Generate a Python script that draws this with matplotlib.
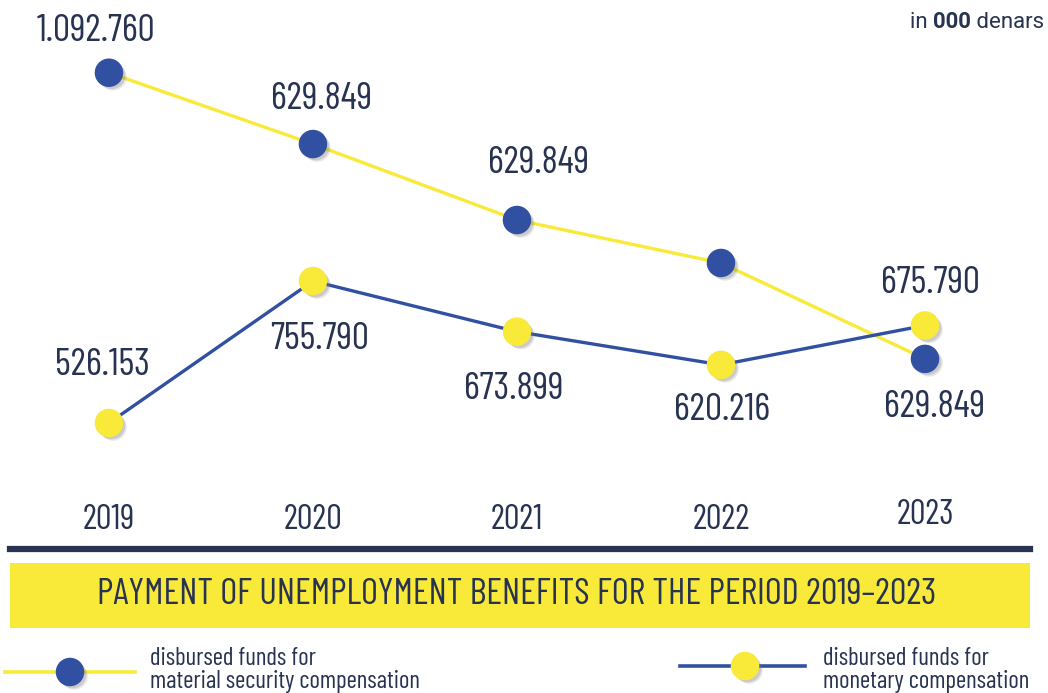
import matplotlib
matplotlib.use("Agg")
import matplotlib.pyplot as plt
import matplotlib.patheffects as pe
from matplotlib.transforms import blended_transform_factory
from matplotlib.lines import Line2D
from matplotlib.patches import Rectangle

# ============================================
# Data (in 000 denars)
# ============================================
years = ["2019", "2020", "2021", "2022", "2023"]
# material security compensation (blue dots, yellow line) - positions
material = [1092.760, 977.4, 854.5, 785.0, 629.849]
material_labels = ["1.092.760", "629.849", "629.849", "", "629.849"]
# monetary compensation (yellow dots, blue line)
monetary = [526.153, 755.790, 673.899, 620.216, 684.0]
monetary_labels = ["526.153", "755.790", "673.899", "620.216", "675.790"]

title = "PAYMENT OF UNEMPLOYMENT BENEFITS FOR THE PERIOD 2019\u20132023"
legend_material = "disbursed funds for\nmaterial security compensation"
legend_monetary = "disbursed funds for\nmonetary compensation"

BLUE = "#3150a1"
YELLOW = "#f9ea3a"
NAVY = "#283351"
FONT = ["Barlow Condensed", "DejaVu Sans"]
UNIT_FONT = ["Roboto", "DejaVu Sans"]

plt.rcParams['font.family'] = FONT

fig = plt.figure(figsize=(10.48, 6.93), dpi=100)
ax = fig.add_axes([0, 0, 1, 1])
ax.set_xlim(-0.534, 4.603)
ax.set_ylim(89.4, 1210.4)
ax.axis("off")

x = list(range(len(years)))

shadow = [pe.SimplePatchShadow(offset=(3, -3), shadow_rgbFace="#777777", alpha=0.18),
          pe.SimplePatchShadow(offset=(2, -2), shadow_rgbFace="#777777", alpha=0.25),
          pe.Normal()]

# lines
ax.plot(x, material, color=YELLOW, lw=2.4, zorder=2)
ax.plot(x, monetary, color=BLUE, lw=2.4, zorder=2)
# markers
ax.plot(x, material, ls="none", marker="o", ms=19.5, color=BLUE, zorder=3, path_effects=shadow)
ax.plot(x, monetary, ls="none", marker="o", ms=19.5, color=YELLOW, zorder=3, path_effects=shadow)

# value labels (offsets in pixels)
mat_off = [(-13, 41), (9, 45), (22, 57), (0, 0), (10, -49)]
mon_off = [(-7, 58), (7, -58), (-3, -58), (1, -46), (5, 42)]
for i in x:
    if material_labels[i]:
        ax.annotate(material_labels[i], (i, material[i]), xytext=mat_off[i],
                    textcoords="offset pixels", ha="center", va="center",
                    fontsize=27.5, color=NAVY)
    ax.annotate(monetary_labels[i], (i, monetary[i]), xytext=mon_off[i],
                textcoords="offset pixels", ha="center", va="center",
                fontsize=27.5, color=NAVY)

# year labels
trans = blended_transform_factory(ax.transData, fig.transFigure)
year_y = [520, 520, 520, 520, 515]
for i, yr in enumerate(years):
    ax.text(i, 1 - year_y[i] / 693, yr, transform=trans, ha="center", va="center",
            fontsize=25, color=NAVY)

# units
uy = 1 - 22 / 693
t1 = fig.text(910 / 1048, uy, "in ", ha="left", va="center", fontsize=16,
              color=NAVY, family=UNIT_FONT)
fig.canvas.draw()
bb = t1.get_window_extent()
t2 = fig.text(bb.x1 / 1048, uy, "000", ha="left", va="center", fontsize=16,
              color=NAVY, fontweight="bold", family=UNIT_FONT)
bb2 = t2.get_window_extent()
fig.text(bb2.x1 / 1048, uy, " denars", ha="left", va="center", fontsize=16,
         color=NAVY, family=UNIT_FONT)

# divider and banner
fig.add_artist(Line2D([10 / 1048, 1030 / 1048], [1 - 549 / 693] * 2, color=NAVY, lw=4.5,
                      transform=fig.transFigure))
fig.add_artist(Rectangle((10 / 1048, 1 - 628 / 693), 1020 / 1048, 65 / 693,
                         facecolor=YELLOW, edgecolor="none", transform=fig.transFigure))
fig.text(517 / 1048, 1 - 594 / 693, title, ha="center", va="center", fontsize=26.6, color=NAVY)

# legend
ly1 = 1 - 672 / 693
fig.add_artist(Line2D([5 / 1048, 135 / 1048], [ly1, ly1], color=YELLOW, lw=2.6,
                      transform=fig.transFigure))
fig.add_artist(Line2D([70 / 1048], [ly1], marker="o", ms=19.5, color=BLUE, ls="none",
                      transform=fig.transFigure, path_effects=shadow))
fig.text(150 / 1048, 1 - 670 / 693, legend_material, ha="left", va="center", fontsize=18,
         color=NAVY, linespacing=1.05)

ly2 = 1 - 666 / 693
fig.add_artist(Line2D([680 / 1048, 805 / 1048], [ly2, ly2], color=BLUE, lw=2.6,
                      transform=fig.transFigure))
fig.add_artist(Line2D([745 / 1048], [ly2], marker="o", ms=19.5, color=YELLOW, ls="none",
                      transform=fig.transFigure, path_effects=shadow))
fig.text(823 / 1048, 1 - 670 / 693, legend_monetary, ha="left", va="center", fontsize=18,
         color=NAVY, linespacing=1.05)

fig.savefig("out.png", dpi=100)
